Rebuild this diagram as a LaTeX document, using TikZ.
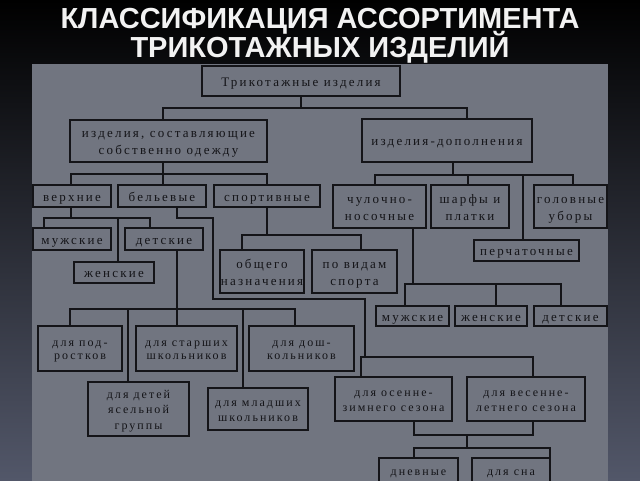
\documentclass[tikz,border=0pt]{standalone}
\usepackage{fontspec}
\setmainfont{Liberation Serif}
\newfontfamily\titlefont{Liberation Sans}
\newfontfamily\boxfont[LetterSpace=17]{Liberation Serif}
\newcommand\tb[1]{\begin{tabular}{@{}c@{}}\rule{0pt}{\dimexpr\ht\strutbox+3.5pt\relax}#1\end{tabular}}
\definecolor{panelc}{RGB}{113,117,128}
\definecolor{bgbot}{RGB}{82,87,105}
\definecolor{ink}{RGB}{20,20,24}
\begin{document}
\begin{tikzpicture}[x=1pt,y=-1pt,
 bx/.style={draw=ink, line width=1.7pt, inner sep=0pt, text=ink,
   font=\boxfont\fontsize{13}{17}\selectfont},
 sm/.style={font=\boxfont\fontsize{12}{15.5}\selectfont},
 smt/.style={font=\boxfont\fontsize{12}{13.5}\selectfont},
 cn/.style={draw=ink, line width=1.3pt},
 ttl/.style={text=white!95!black, anchor=base, inner sep=0pt, font=\titlefont\bfseries\fontsize{29}{30}\selectfont}]
\useasboundingbox (0,0) rectangle (640,480);
\clip (0,0) rectangle (640,480);
\shade[top color=black, bottom color=bgbot] (0,0) rectangle (640,480);
\fill[panelc] (32,64) rectangle (608,482);

\node[ttl] (t1) at (320,28) {КЛАССИФИКАЦИЯ АССОРТИМЕНТА};
\node[ttl] (t2) at (320,57) {ТРИКОТАЖНЫХ ИЗДЕЛИЙ};

% boxes
\node[bx, minimum width=198pt, minimum height=30pt] (tk) at (301,81) {\tb{Трикотажные изделия}};
\node[bx, minimum width=197pt, minimum height=42pt] (od) at (168.5,141) {\tb{изделия, составляющие\\собственно одежду}};
\node[bx, minimum width=170pt, minimum height=43pt] (dp) at (447,140.5) {\tb{изделия-дополнения}};
\node[bx, minimum width=78pt, minimum height=22pt] (vh) at (72,196) {\tb{верхние}};
\node[bx, minimum width=88pt, minimum height=22pt] (bl) at (162,196) {\tb{бельевые}};
\node[bx, minimum width=106pt, minimum height=22pt] (sp) at (267,196) {\tb{спортивные}};
\node[bx, minimum width=93pt, minimum height=43pt] (ch) at (379.5,206.5) {\tb{чулочно-\\носочные}};
\node[bx, minimum width=78pt, minimum height=43pt] (sh) at (470,206.5) {\tb{шарфы и\\платки}};
\node[bx, minimum width=73pt, minimum height=43pt] (gl) at (570.5,206.5) {\tb{головные\\уборы}};
\node[bx, minimum width=105pt, minimum height=21pt] (pr) at (526.5,250.5) {\tb{перчаточные}};
\node[bx, minimum width=78pt, minimum height=22pt] (ml) at (72,239) {\tb{мужские}};
\node[bx, minimum width=78pt, minimum height=22pt] (dl) at (164,239) {\tb{детские}};
\node[bx, minimum width=80pt, minimum height=21pt] (zl) at (114,272.5) {\tb{женские}};
\node[bx, minimum width=84pt, minimum height=43pt] (ob) at (262,271.5) {\tb{общего\\назначения}};
\node[bx, minimum width=85pt, minimum height=43pt] (vs) at (354.5,271.5) {\tb{по видам\\спорта}};
\node[bx, minimum width=73pt, minimum height=20pt] (mr) at (412.5,316) {\tb{мужские}};
\node[bx, minimum width=72pt, minimum height=20pt] (zr) at (491,316) {\tb{женские}};
\node[bx, minimum width=73pt, minimum height=20pt] (dr) at (570.5,316) {\tb{детские}};
\node[bx, smt, minimum width=84pt, minimum height=45pt] (pd) at (80,348.5) {\tb{для под-\\ростков}};
\node[bx, smt, minimum width=101pt, minimum height=45pt] (st) at (186.5,348.5) {\tb{для старших\\школьников}};
\node[bx, smt, minimum width=105pt, minimum height=45pt] (ds) at (301.5,348.5) {\tb{для дош-\\кольников}};
\node[bx, sm, minimum width=101pt, minimum height=54pt] (ya) at (138.5,409) {\tb{для детей\\ясельной\\группы}};
\node[bx, sm, minimum width=100pt, minimum height=42pt] (mw) at (258,409) {\tb{для младших\\школьников}};
\node[bx, sm, minimum width=117pt, minimum height=44pt] (oz) at (393.5,399) {\tb{для осенне-\\зимнего сезона}};
\node[bx, sm, minimum width=118pt, minimum height=44pt] (vl) at (526,399) {\tb{для весенне-\\летнего сезона}};
\node[bx, sm, minimum width=79pt, minimum height=26pt] (dn) at (418.5,471) {\tb{дневные}};
\node[bx, sm, minimum width=78pt, minimum height=26pt] (sn) at (511,471) {\tb{для сна}};

% junction coordinates
\coordinate (a1) at (163,108); \coordinate (a2) at (467,108);
\coordinate (b0) at (163,174); \coordinate (b1) at (71,174); \coordinate (b2) at (267,174);
\coordinate (c0) at (453,175); \coordinate (c1) at (375,175); \coordinate (c2) at (573,175);
\coordinate (c3) at (468,175); \coordinate (c4) at (523,175);
\coordinate (d0) at (71,218); \coordinate (d1) at (44,218); \coordinate (d2) at (150,218); \coordinate (d3) at (118,218);
\coordinate (e0) at (177,218); \coordinate (e1) at (213,218); \coordinate (e2) at (213,299);
\coordinate (e3) at (365,299); \coordinate (e4) at (365,357); \coordinate (e5) at (361,357); \coordinate (e6) at (533,357);
\coordinate (f0) at (267,235); \coordinate (f1) at (242,235); \coordinate (f2) at (361,235);
\coordinate (g0) at (413,284); \coordinate (g1) at (405,284); \coordinate (g2) at (561,284); \coordinate (g3) at (496,284);
\coordinate (h0) at (177,309); \coordinate (h1) at (70,309); \coordinate (h2) at (295,309);
\coordinate (h3) at (128,309); \coordinate (h4) at (243,309);
\coordinate (i0) at (414,435); \coordinate (i1) at (533,435); \coordinate (i2) at (467,435);
\coordinate (j0) at (467,448); \coordinate (j1) at (414,448); \coordinate (j2) at (550,448);

% connectors
\draw[cn] (tk.south) -- (tk.south |- a1);
\draw[cn] (od.north -| a1) -- (a1) -- (a2) -- (dp.north -| a2);
\draw[cn] (od.south -| b0) -- (b0);
\draw[cn] (vh.north -| b1) -- (b1) -- (b2) -- (sp.north -| b2);
\draw[cn] (b0) -- (bl.north -| b0);
\draw[cn] (dp.south -| c0) -- (c0);
\draw[cn] (ch.north -| c1) -- (c1) -- (c2) -- (gl.north -| c2);
\draw[cn] (c3) -- (sh.north -| c3);
\draw[cn] (c4) -- (pr.north -| c4);
\draw[cn] (vh.south -| d0) -- (d0);
\draw[cn] (ml.north -| d1) -- (d1) -- (d2) -- (dl.north -| d2);
\draw[cn] (d3) -- (zl.north -| d3);
\draw[cn] (bl.south -| e0) -- (e0) -- (e1) -- (e2) -- (e3) -- (e4);
\draw[cn] (oz.north -| e5) -- (e5) -- (e6) -- (vl.north -| e6);
\draw[cn] (sp.south -| f0) -- (f0);
\draw[cn] (ob.north -| f1) -- (f1) -- (f2) -- (vs.north -| f2);
\draw[cn] (ch.south -| g0) -- (g0);
\draw[cn] (mr.north -| g1) -- (g1) -- (g2) -- (dr.north -| g2);
\draw[cn] (g3) -- (zr.north -| g3);
\draw[cn] (dl.south -| h0) -- (h0);
\draw[cn] (pd.north -| h1) -- (h1) -- (h2) -- (ds.north -| h2);
\draw[cn] (h3) -- (ya.north -| h3);
\draw[cn] (h0) -- (st.north -| h0);
\draw[cn] (h4) -- (mw.north -| h4);
\draw[cn] (oz.south -| i0) -- (i0) -- (i1) -- (vl.south -| i1);
\draw[cn] (i2) -- (j0);
\draw[cn] (dn.north -| j1) -- (j1) -- (j2) -- (sn.north -| j2);
\end{tikzpicture}
\end{document}
